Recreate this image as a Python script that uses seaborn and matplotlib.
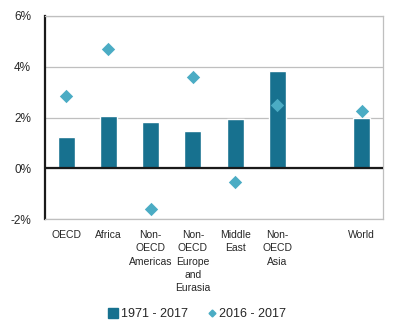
import matplotlib
matplotlib.use("Agg")
import matplotlib.pyplot as plt
from matplotlib.lines import Line2D
import seaborn as sns
import pandas as pd

categories = ["OECD", "Africa", "Non-\nOECD\nAmericas", "Non-\nOECD\nEurope\nand\nEurasia",
              "Middle\nEast", "Non-\nOECD\nAsia", " ", "World"]
plotted = ["OECD", "Africa", "Non-\nOECD\nAmericas", "Non-\nOECD\nEurope\nand\nEurasia",
           "Middle\nEast", "Non-\nOECD\nAsia", "World"]
growth_1971_2017 = [1.23, 2.06, 1.84, 1.47, 1.96, 3.84, 1.97]
growth_2016_2017 = [2.84, 4.71, -1.61, 3.58, -0.56, 2.48, 2.24]
series_labels = ["1971 - 2017", "2016 - 2017"]
yticks = [-2, 0, 2, 4, 6]

bar_color = "#17718F"
dia_color = "#4BACC4"

df = pd.DataFrame({"region": plotted, "long": growth_1971_2017, "short": growth_2016_2017})

sns.set_style("white")
plt.rcParams["font.family"] = ["Liberation Sans", "DejaVu Sans"]

fig = plt.figure(figsize=(3.94, 3.29), dpi=100)
ax = fig.add_axes([45/394, 1-219/329, (383-45)/394, (219-16)/329])

sns.barplot(data=df, x="region", y="long", order=categories, color=bar_color,
            width=0.4, saturation=1, ax=ax, zorder=2)
sns.stripplot(data=df, x="region", y="short", order=categories, color=dia_color,
              marker="D", size=6.8, jitter=False, ax=ax, zorder=3, linewidth=0)

ax.set_xlim(-0.5, len(categories) - 0.5)
ax.set_ylim(-2, 6)
ax.set_yticks(yticks)
ax.set_yticklabels([f"{v}%" for v in yticks], fontsize=8.5)
ax.set_xlabel("")
ax.set_ylabel("")
ax.tick_params(axis="both", length=0)
ax.tick_params(axis="y", pad=10)
ax.tick_params(axis="x", pad=8)
for lab in ax.get_xticklabels():
    lab.set_fontsize(7.5)
    lab.set_linespacing(1.4)
    lab.set_verticalalignment("top")

ax.yaxis.grid(True, color="#BFBFBF", linewidth=0.9, zorder=0)
ax.set_axisbelow(True)
ax.axhline(0, color="#1a1a1a", linewidth=1.6, zorder=4)
for side in ["top", "right", "bottom"]:
    ax.spines[side].set_color("#BFBFBF")
    ax.spines[side].set_linewidth(0.9)
ax.spines["left"].set_color("#1a1a1a")
ax.spines["left"].set_linewidth(1.6)

handles = [
    Line2D([], [], marker="s", linestyle="none", color=bar_color, markersize=6.5),
    Line2D([], [], marker="D", linestyle="none", color=dia_color, markersize=3.5),
]
fig.legend(handles, series_labels, loc="center", bbox_to_anchor=(198/394, 1-314/329),
           ncol=2, frameon=False, fontsize=9, handlelength=0.6, handletextpad=0.3,
           columnspacing=1.6)

fig.savefig("out.png", dpi=100)
